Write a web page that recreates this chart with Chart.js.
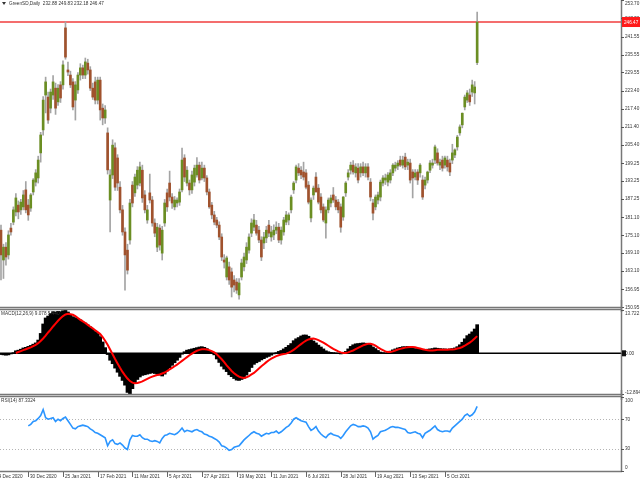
<!DOCTYPE html>
<html>
<head>
<meta charset="utf-8">
<title>GreenSD Daily</title>
<script src="https://cdn.jsdelivr.net/npm/chart.js@4.4.1/dist/chart.umd.min.js"></script>
<style>
  html, body { margin: 0; padding: 0; background: #fff; }
  #wrap { position: relative; width: 640px; height: 480px; overflow: hidden; background: #fff; }
  #wrap canvas { position: absolute; left: 0; }
</style>
</head>
<body>
<div id="wrap">
  <canvas id="priceChart" width="640" height="312" style="top:0px"></canvas>
  <canvas id="macdChart" width="640" height="100" style="top:300px"></canvas>
  <canvas id="rsiChart" width="640" height="90" style="top:390px"></canvas>
</div>
<script>
// daily bars, oldest first
const opens = [
  176.7,166.7,171.0,168.4,177.4,179.4,182.8,185.1,183.5,184.5,
  190.2,185.1,184.1,189.5,192.8,194.2,202.6,210.3,222.0,221.3,
  217.6,222.0,224.3,219.7,225.4,225.4,244.5,230.4,228.7,226.4,
  220.3,223.7,228.7,231.1,228.7,232.7,230.4,224.3,226.4,220.3,
  227.0,217.6,214.3,209.3,186.8,195.2,204.3,200.9,191.1,183.5,
  176.1,170.0,173.4,191.8,189.2,191.8,192.5,196.8,188.5,180.1,
  189.2,186.8,179.1,171.0,177.4,169.0,179.1,189.2,192.5,187.8,
  184.5,185.8,186.1,190.2,200.9,192.5,192.5,190.2,192.8,195.2,
  198.5,194.2,197.5,194.2,189.5,185.1,181.8,180.1,178.4,174.4,
  166.7,161.0,164.4,162.7,160.0,159.3,155.0,161.0,164.4,166.7,
  170.0,175.7,177.7,178.4,176.7,173.4,172.4,174.1,178.4,174.4,
  175.1,176.7,177.7,173.4,176.1,179.4,180.1,183.5,190.2,193.5,
  197.5,196.8,196.2,195.9,191.8,180.8,188.5,194.5,190.8,187.8,
  184.5,179.1,183.5,185.8,188.5,186.8,186.1,184.5,181.1,189.2,
  194.5,196.8,198.5,195.9,197.5,195.9,197.9,195.9,197.9,192.8,
  185.8,184.5,186.8,187.8,192.5,193.5,192.8,193.5,195.9,197.5,
  198.2,200.2,198.5,201.2,198.5,199.2,196.2,194.5,196.2,195.9,
  193.5,191.8,193.5,196.8,198.5,200.2,202.6,198.5,200.2,198.5,
  200.2,199.2,200.2,201.9,204.6,209.3,212.0,218.0,220.3,222.0,
  223.0,222.7,232.88
];
const highs = [
  178.4,172.0,172.5,176.5,179.0,184.5,189.0,186.5,187.0,190.0,
  193.0,187.0,189.0,194.0,197.0,201.5,209.5,221.5,228.0,223.0,
  224.0,228.5,226.0,225.5,226.5,233.5,246.5,233.0,230.0,227.5,
  226.5,229.5,232.5,232.0,234.4,234.0,231.5,226.0,228.0,228.0,
  228.0,219.0,218.5,211.0,197.0,207.0,206.0,202.0,193.0,185.0,
  177.5,172.0,187.0,193.0,195.5,198.0,199.5,198.5,190.0,185.0,
  195.5,188.0,180.5,179.0,178.5,178.0,187.0,190.5,196.5,189.0,
  188.0,187.5,190.5,204.2,202.0,198.0,193.5,196.5,198.5,201.0,
  199.5,199.5,198.5,195.0,190.5,186.0,183.0,181.0,179.5,175.5,
  168.5,168.0,166.0,164.0,161.5,160.5,160.5,167.0,169.0,172.5,
  175.5,180.5,182.0,180.0,178.0,174.5,176.0,178.0,180.0,178.0,
  178.5,179.5,179.0,177.8,181.0,183.0,182.5,188.5,193.0,198.5,
  199.0,198.0,199.5,197.0,193.0,187.5,191.5,196.0,192.0,189.0,
  185.5,184.5,187.5,188.5,191.0,188.0,187.0,185.5,188.0,193.0,
  197.0,199.5,200.0,199.0,199.0,199.0,199.5,199.0,199.0,194.0,
  187.0,188.5,189.5,193.5,195.0,195.5,196.0,197.0,199.0,199.5,
  200.0,201.5,201.5,202.5,200.5,200.5,197.0,197.0,197.0,199.0,
  195.0,194.5,196.5,200.0,200.5,205.2,204.0,200.5,201.5,201.5,
  201.5,200.5,205.5,204.0,208.5,212.0,216.0,222.0,223.5,224.0,
  227.0,226.5,249.83
];
const lows = [
  160.0,160.5,165.0,167.0,175.0,178.5,181.5,180.5,182.0,183.5,
  182.5,180.0,183.0,188.5,191.5,192.5,199.5,208.5,216.0,212.5,
  216.0,220.5,215.5,218.5,219.5,224.0,234.0,228.5,224.5,217.0,
  213.6,222.5,227.0,227.5,227.5,229.0,223.5,220.5,219.0,219.0,
  213.6,212.0,212.5,195.5,176.1,194.0,190.0,190.0,182.5,175.0,
  156.6,162.0,172.0,184.5,188.0,190.5,191.5,186.0,182.5,179.0,
  185.8,178.0,174.5,169.5,170.0,166.7,178.0,183.0,186.5,184.0,
  183.5,184.5,185.0,189.5,193.0,191.5,188.5,189.0,191.5,194.5,
  192.5,193.5,193.0,188.5,184.0,180.5,178.5,177.5,173.5,166.5,
  164.0,160.0,158.5,154.3,156.0,155.5,153.6,160.0,163.0,165.5,
  169.0,174.5,176.5,175.0,172.5,166.5,170.5,172.5,174.5,173.0,
  173.5,175.5,172.5,172.0,175.0,178.5,178.5,182.5,189.0,192.5,
  195.0,194.0,193.5,190.5,185.5,179.5,187.0,189.5,185.5,182.5,
  179.5,174.0,182.5,184.5,186.0,183.5,182.5,176.0,180.0,188.0,
  193.5,195.5,195.5,194.5,192.5,194.5,195.0,194.5,193.5,186.5,
  180.1,183.5,185.5,186.5,191.5,192.0,191.5,192.5,195.0,196.5,
  197.0,198.0,197.5,197.0,197.0,192.5,187.5,193.5,192.0,194.5,
  187.0,190.5,192.5,196.0,197.5,199.0,198.5,197.0,196.5,197.5,
  196.5,195.0,199.0,201.0,203.5,208.5,211.0,217.0,219.5,218.5,
  221.5,219.0,232.18
];
const closes = [
  168.4,171.0,167.7,175.1,176.1,183.5,187.5,182.8,186.1,188.5,
  183.5,181.8,188.5,193.5,195.9,200.2,208.6,220.3,226.4,213.6,
  223.0,226.4,217.6,224.3,221.0,232.1,234.7,229.7,225.4,218.0,
  225.4,228.7,231.1,228.7,233.1,230.4,224.3,221.3,220.3,227.0,
  217.0,214.3,217.0,196.9,195.2,205.2,191.1,192.5,183.5,176.1,
  168.4,163.3,185.8,185.8,194.5,196.8,197.9,187.5,183.5,183.5,
  186.8,179.1,175.7,177.7,171.7,176.7,185.8,184.5,187.8,185.8,
  186.8,186.8,189.5,200.2,194.5,196.8,190.2,195.2,197.5,198.5,
  193.5,197.5,194.2,189.5,184.5,181.8,179.4,178.4,174.4,167.7,
  166.0,167.4,160.0,157.6,158.3,156.6,159.0,165.7,167.7,171.0,
  174.4,179.1,180.1,175.7,173.4,167.7,174.4,176.7,175.7,176.1,
  176.7,177.7,173.4,176.7,180.1,181.8,181.8,187.8,192.5,197.9,
  195.9,195.2,194.5,191.1,186.1,186.8,190.8,189.5,186.1,183.5,
  180.1,183.5,186.8,187.5,186.8,184.5,183.5,177.7,187.8,192.5,
  195.9,198.5,196.2,197.9,193.5,197.9,195.9,197.9,194.5,187.8,
  182.4,187.8,188.5,192.8,194.2,194.2,195.2,195.9,198.5,198.5,
  199.2,198.5,200.2,197.9,199.5,193.5,194.2,195.9,193.5,198.5,
  187.8,193.5,196.2,199.2,199.2,204.6,199.2,199.5,197.5,200.9,
  197.9,196.2,202.6,203.6,207.9,211.3,215.9,221.3,222.7,219.7,
  225.4,224.7,246.47
];

// MACD(12,26,9): histogram and signal
const macdHist = [
  -0.4,-0.5,-0.6,-0.5,-0.2,0.2,0.8,1.0,1.3,1.7,
  1.9,2.2,2.5,2.9,3.3,4.2,6.3,9.3,11.2,11.8,
  12.6,13.2,13.0,13.3,13.2,13.5,13.7,13.1,12.3,11.6,
  11.3,11.0,10.6,9.9,9.6,9.0,8.4,7.6,6.9,6.3,
  5.3,3.6,1.8,-0.4,-2.2,-3.3,-4.7,-6.0,-7.3,-8.6,
  -10.1,-12.4,-12.9,-11.2,-9.4,-8.3,-7.5,-7.0,-6.8,-6.6,
  -6.4,-6.2,-6.4,-6.6,-6.9,-7.2,-6.6,-5.6,-4.6,-3.8,
  -3.0,-2.2,-1.3,-0.3,0.5,1.0,1.2,1.4,1.6,1.8,
  2.0,2.1,1.9,1.5,0.9,0.3,-0.5,-1.8,-2.9,-4.1,
  -5.0,-5.8,-6.8,-7.4,-8.0,-8.5,-8.6,-8.3,-7.9,-6.9,
  -5.8,-4.5,-3.5,-3.0,-2.6,-2.1,-1.7,-1.3,-1.0,-0.6,
  -0.2,0.2,0.6,0.9,1.4,1.9,2.5,3.1,4.0,4.6,
  5.0,5.5,5.8,5.8,5.4,4.6,3.9,3.3,2.6,2.0,
  1.4,0.8,0.5,0.3,0.2,0.1,-0.1,-0.2,0.0,0.6,
  1.4,2.2,2.7,3.0,3.1,3.2,3.3,3.2,3.1,2.8,
  2.0,1.5,0.9,0.4,0.2,0.1,0.2,0.7,1.1,1.4,
  1.7,1.9,2.1,2.1,2.2,2.1,1.8,1.5,1.4,1.3,
  1.0,1.1,1.3,1.4,1.5,1.7,1.6,1.5,1.4,1.4,
  1.3,1.4,1.5,1.7,2.1,2.7,3.5,4.6,5.6,6.1,
  6.8,7.7,9.078
];
const macdSignal = [
  null,null,null,null,null,null,0.1,0.4,0.7,1.0,
  1.3,1.6,1.9,2.3,2.7,3.2,3.9,4.7,5.6,6.6,
  7.5,8.5,9.4,10.3,11.1,11.8,12.3,12.5,12.4,12.2,
  11.8,11.2,10.6,10.1,9.6,9.0,8.4,7.9,7.3,6.7,
  6.1,5.1,4.0,2.7,1.2,-0.3,-1.8,-3.2,-4.6,-5.9,
  -7.0,-8.0,-8.8,-9.3,-9.5,-9.4,-9.2,-8.9,-8.5,-8.1,
  -7.7,-7.4,-7.1,-6.9,-6.7,-6.4,-6.1,-5.6,-5.1,-4.6,
  -4.1,-3.6,-3.0,-2.4,-1.8,-1.2,-0.6,-0.1,0.4,0.8,
  1.1,1.3,1.3,1.2,1.0,0.7,0.3,-0.3,-1.1,-1.9,
  -2.8,-3.8,-4.7,-5.6,-6.3,-6.9,-7.4,-7.7,-7.8,-7.6,
  -7.2,-6.7,-6.2,-5.5,-4.8,-4.1,-3.5,-2.8,-2.2,-1.7,
  -1.3,-0.9,-0.6,-0.4,-0.2,-0.1,0.2,0.6,1.1,1.7,
  2.3,2.9,3.5,4.0,4.4,4.6,4.7,4.5,4.2,3.8,
  3.4,2.9,2.4,1.9,1.4,1.0,0.6,0.3,0.1,0.1,
  0.3,0.6,0.9,1.3,1.7,2.1,2.5,2.8,3.0,3.0,
  2.8,2.4,1.9,1.4,1.0,0.6,0.4,0.4,0.6,0.9,
  1.2,1.4,1.6,1.8,1.9,2.0,2.0,1.9,1.7,1.5,
  1.3,1.1,1.0,0.9,0.9,1.0,1.1,1.1,1.1,1.1,
  1.1,1.2,1.2,1.3,1.5,1.7,2.0,2.4,2.9,3.4,
  4.0,4.7,5.44
];

// RSI(14)
const rsi = [
  null,null,null,null,null,null,null,null,null,null,
  null,61,63,67,68,71,75,83,72,70,
  71,72,67,70,68,71,73,68,63,58,
  57,60,61,62,61,60,57,55,52,51,
  49,47,45,34,40,42,37,36,38,35,
  31,29,42,48,47,47,49,45,43,43,
  41,40,41,40,38,44,48,49,51,50,
  49,51,54,58,53,55,54,53,55,56,
  54,53,50,49,47,46,44,42,39,34,
  33,31,28,29,32,33,34,38,42,45,
  48,51,53,51,50,47,49,51,50,52,
  52,54,51,53,56,59,61,65,70,72,
  70,68,67,66,60,55,57,60,54,50,
  47,45,49,51,49,48,47,44,48,53,
  57,61,63,62,60,60,61,60,58,53,
  43,46,48,53,54,55,57,59,60,59,
  59,58,57,56,52,51,52,53,51,50,
  45,51,53,55,58,61,56,54,53,54,
  54,53,58,61,64,67,70,75,77,74,
  76,80,87.3324
];

// axis labels
const dateTickIdx = [-3, 11, 25, 39, 53, 67, 81, 95, 109, 123, 137, 151, 165, 179];
const dateTickText = ["14 Dec 2020", "30 Dec 2020", "25 Jan 2021", "17 Feb 2021", "11 Mar 2021",
  "5 Apr 2021", "27 Apr 2021", "19 May 2021", "11 Jun 2021", "6 Jul 2021", "28 Jul 2021",
  "19 Aug 2021", "13 Sep 2021", "5 Oct 2021"];
const priceTicks = [150.95, 156.95, 163.10, 169.10, 175.10, 181.10, 187.25, 193.25, 199.25,
  205.40, 211.40, 217.40, 223.40, 229.55, 235.55, 241.55, 247.70, 253.70];
const macdTicks = [13.722, 0, -12.894];
const macdTickText = ["13.722", "0.00", "-12.894"];
const rsiTicks = [100, 70, 30, 0];
const rsiLevels = [70, 30];
const lastPrice = 246.47;
const titleText = "GreenSD,Daily  232.88 249.83 232.18 246.47";
const macdText = "MACD(12,26,9) 9.078 5.440";
const rsiText = "RSI(14) 87.3324";

const upColor = "#6b8e23";
const downColor = "#a0522d";
const wickColor = "#a4a4a4";
const frameColor = "#777777";
const textColor = "#333333";
const tinyFont = '6px "Liberation Sans", sans-serif';
const squeeze = 0.78; // the MT4 text is narrower than any installed face
const xMin = -0.4;
const xMax = 250;

function baseOptions(yMin, yMax, padTop, padBottom) {
  return {
    responsive: false,
    animation: false,
    events: [],
    layout: { padding: { left: 0, right: 19, top: padTop, bottom: padBottom } },
    plugins: { legend: { display: false }, tooltip: { enabled: false } },
    scales: {
      x: { type: "linear", display: false, min: xMin, max: xMax, offset: false, bounds: "data" },
      y: { type: "linear", display: false, min: yMin, max: yMax, bounds: "data", beginAtZero: false }
    }
  };
}

function hLine(ctx, x1, x2, y, color, width, dash) {
  ctx.save();
  ctx.strokeStyle = color;
  ctx.lineWidth = width;
  ctx.setLineDash(dash || []);
  ctx.beginPath();
  ctx.moveTo(x1, y);
  ctx.lineTo(x2, y);
  ctx.stroke();
  ctx.restore();
}

function vLine(ctx, x, y1, y2, color, width) {
  ctx.save();
  ctx.strokeStyle = color;
  ctx.lineWidth = width;
  ctx.beginPath();
  ctx.moveTo(x, y1);
  ctx.lineTo(x, y2);
  ctx.stroke();
  ctx.restore();
}

function text(ctx, s, x, y, color) {
  ctx.save();
  ctx.font = tinyFont;
  ctx.fillStyle = color || textColor;
  ctx.textAlign = "left";
  ctx.textBaseline = "middle";
  ctx.translate(x, y);
  ctx.scale(squeeze, 1);
  ctx.fillText(s, 0, 0);
  ctx.restore();
}

// right-side value labels, kept inside the panel at the ends
function drawYLabels(chart, values, labels, clampTop, clampBottom) {
  const ctx = chart.ctx;
  const area = chart.chartArea;
  const yScale = chart.scales.y;
  values.forEach((v, i) => {
    const y = yScale.getPixelForValue(v);
    hLine(ctx, area.right, area.right + 3, Math.round(y) + 0.5, "#555", 1);
    let ty = y;
    if (clampTop !== null) ty = Math.max(ty, area.top + clampTop);
    if (clampBottom !== null) ty = Math.min(ty, area.bottom - clampBottom);
    text(ctx, labels[i], area.right + 4, ty);
  });
}

// ---- price panel ----
const wickData = highs.map((h, i) => ({ x: i, y: [lows[i], h] }));
const bodyData = opens.map((o, i) => ({ x: i, y: [o, closes[i]] }));
const bodyColors = opens.map((o, i) => (closes[i] >= o ? upColor : downColor));

const pricePlugin = {
  id: "pricePanel",
  beforeDatasetsDraw(chart) {
    const area = chart.chartArea;
    const y = chart.scales.y.getPixelForValue(lastPrice);
    hLine(chart.ctx, area.left, area.right, y, "#f03c3c", 1.5);
  },
  afterDraw(chart) {
    const ctx = chart.ctx;
    const area = chart.chartArea;
    hLine(ctx, 0, area.right + 1, area.bottom - 0.5, frameColor, 1.5);
    vLine(ctx, area.right + 0.5, 0, chart.height, frameColor, 1.5);
    drawYLabels(chart, priceTicks, priceTicks.map((v) => v.toFixed(2)), 3, null);

    const y = chart.scales.y.getPixelForValue(lastPrice);
    ctx.fillStyle = "#ff1a1a";
    ctx.fillRect(area.right + 1, y - 5, 20, 10);
    text(ctx, lastPrice.toFixed(2), area.right + 3, y, "#ffffff");

    ctx.fillStyle = "#333";
    ctx.beginPath();
    ctx.moveTo(2, 2);
    ctx.lineTo(6, 2);
    ctx.lineTo(4, 5);
    ctx.closePath();
    ctx.fill();
    text(ctx, titleText, 9, 3.5);
  }
};

new Chart(document.getElementById("priceChart"), {
  type: "bar",
  data: {
    datasets: [
      {
        data: wickData,
        backgroundColor: wickColor,
        barThickness: 1,
        grouped: false,
        borderWidth: 0,
        order: 2
      },
      {
        data: bodyData,
        backgroundColor: bodyColors,
        barThickness: 2,
        minBarLength: 1,
        grouped: false,
        borderWidth: 0,
        order: 1
      }
    ]
  },
  options: baseOptions(150.61, 253.85, 0, 4),
  plugins: [pricePlugin]
});

// ---- MACD panel ----
const macdPlugin = {
  id: "macdPanel",
  beforeDatasetsDraw(chart) {
    const area = chart.chartArea;
    const y = chart.scales.y.getPixelForValue(0);
    hLine(chart.ctx, area.left, area.right, y, "#000", 1.5);
  },
  afterDraw(chart) {
    const ctx = chart.ctx;
    const area = chart.chartArea;
    hLine(ctx, 0, area.right + 1, area.top - 0.5, frameColor, 1.5);
    hLine(ctx, 0, area.right + 1, area.bottom + 0.5, frameColor, 1.5);
    vLine(ctx, area.right + 0.5, 0, chart.height, frameColor, 1.5);
    drawYLabels(chart, macdTicks, macdTickText, 3, 2);
    const y0 = chart.scales.y.getPixelForValue(0);
    ctx.fillStyle = "#111";
    ctx.fillRect(area.right + 1, y0 - 3, 4, 6);
    text(ctx, macdText, 1, area.top + 3.5);
  }
};

new Chart(document.getElementById("macdChart"), {
  type: "bar",
  data: {
    datasets: [
      {
        type: "line",
        data: macdSignal.map((v, i) => ({ x: i, y: v })).filter((p) => p.y !== null),
        borderColor: "#ff0000",
        borderWidth: 2,
        pointRadius: 0,
        tension: 0,
        order: 0
      },
      {
        data: macdHist.map((v, i) => ({ x: i, y: v })),
        backgroundColor: "#000000",
        barThickness: 3,
        grouped: false,
        borderWidth: 0,
        order: 1
      }
    ]
  },
  options: baseOptions(-12.894, 13.722, 10, 6),
  plugins: [macdPlugin]
});

// ---- RSI panel + date axis ----
const rsiPlugin = {
  id: "rsiPanel",
  beforeDatasetsDraw(chart) {
    const area = chart.chartArea;
    rsiLevels.forEach((lv) => {
      const y = Math.round(chart.scales.y.getPixelForValue(lv)) + 0.5;
      hLine(chart.ctx, area.left, area.right, y, "#b4b4b4", 1, [1, 2]);
    });
  },
  afterDraw(chart) {
    const ctx = chart.ctx;
    const area = chart.chartArea;
    hLine(ctx, 0, area.right + 1, area.top - 0.5, frameColor, 1.5);
    hLine(ctx, 0, area.right + 1, area.bottom + 0.5, frameColor, 1.5);
    vLine(ctx, area.right + 0.5, 0, area.bottom + 1, frameColor, 1.5);
    drawYLabels(chart, rsiTicks, rsiTicks.map(String), 3, 4);
    text(ctx, rsiText, 1, area.top + 3.5);

    const xScale = chart.scales.x;
    dateTickIdx.forEach((idx, i) => {
      const x = Math.round(xScale.getPixelForValue(idx)) + 0.5;
      vLine(ctx, x, area.bottom + 1, area.bottom + 6, "#666", 1);
      text(ctx, dateTickText[i], x + 1.5, area.bottom + 5.5);
    });
  }
};

new Chart(document.getElementById("rsiChart"), {
  type: "line",
  data: {
    datasets: [
      {
        data: rsi.map((v, i) => ({ x: i, y: v })).filter((p) => p.y !== null),
        borderColor: "#2b95ff",
        borderWidth: 1.6,
        pointRadius: 0,
        tension: 0
      }
    ]
  },
  options: baseOptions(0, 100, 7, 9),
  plugins: [rsiPlugin]
});
</script>
</body>
</html>
